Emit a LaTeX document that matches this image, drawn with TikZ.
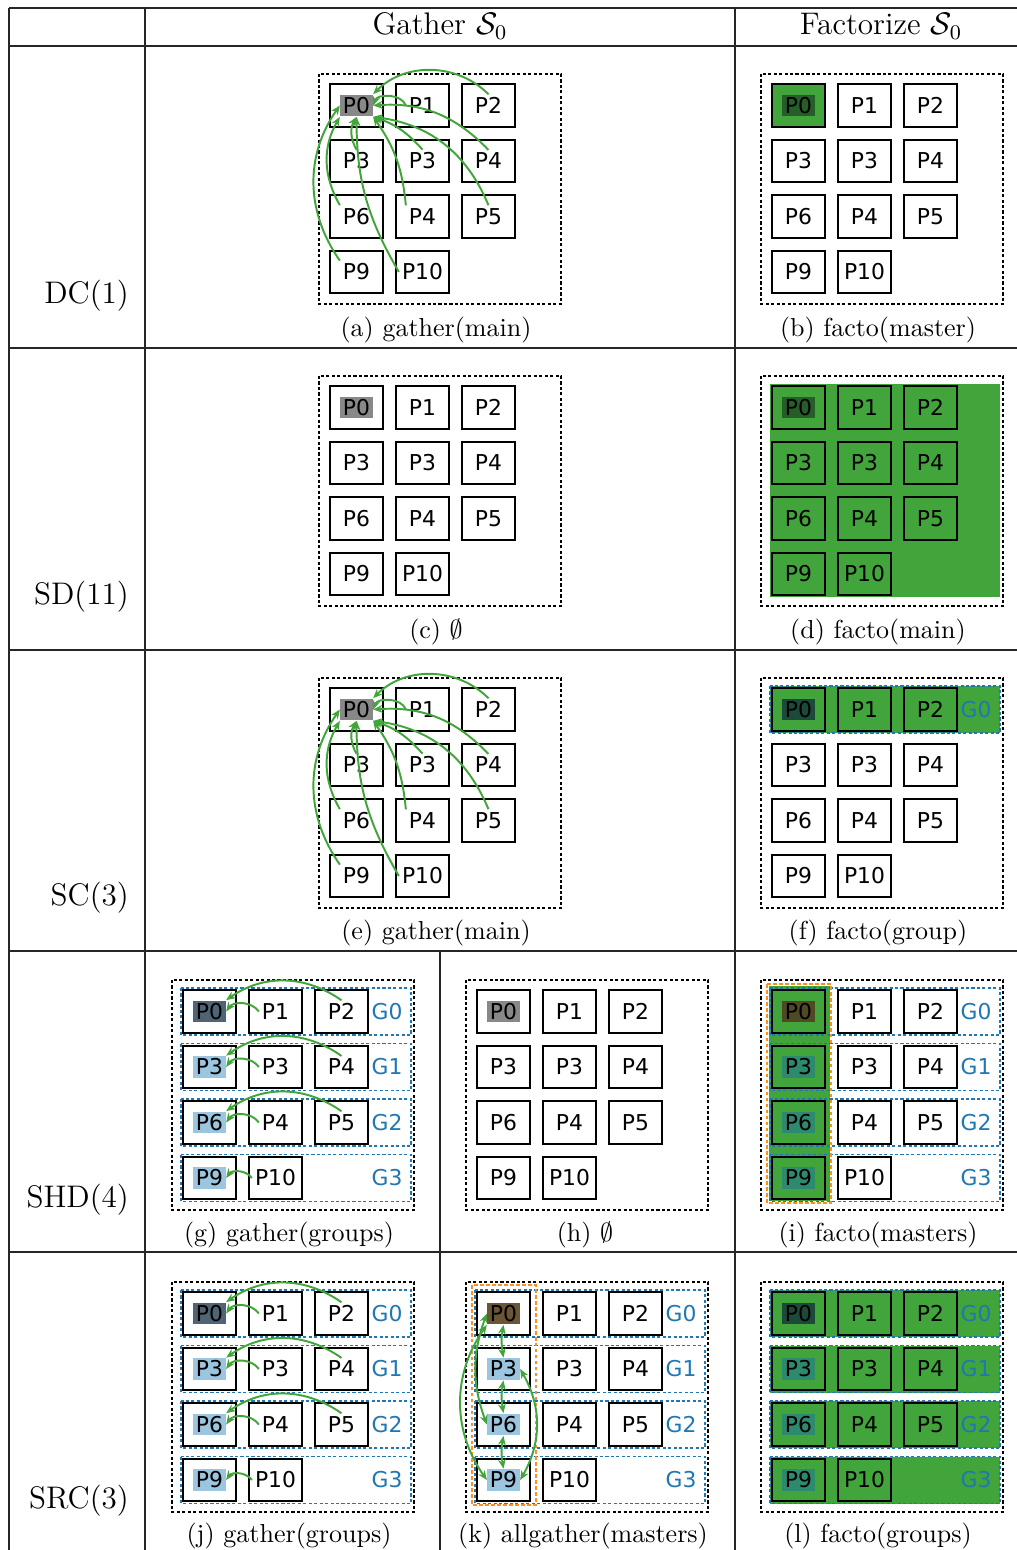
\documentclass[tikz,border=0pt]{standalone}
\usepackage{fontspec}
\usetikzlibrary{arrows.meta}
\newfontfamily\dejavu{DejaVu Sans}
\definecolor{figGreen}{HTML}{42A53B}
\definecolor{figBlue}{HTML}{1F77B4}
\definecolor{figOrange}{HTML}{FF8F1A}
\definecolor{hlMain}{HTML}{888888}
\definecolor{hlMainG}{HTML}{255E28}
\definecolor{hlTop}{HTML}{4F6475}
\definecolor{hlTopG}{HTML}{1C4A3A}
\definecolor{hlGrp}{HTML}{9CC5DF}
\definecolor{hlGrpG}{HTML}{2E8A6F}
\definecolor{hlMast}{HTML}{6B5535}
\definecolor{hlMastG}{HTML}{4F4A25}

% 4x3 grid of processes, cell P0 centred at (#2,#3)
\newcommand{\pgrid}[3]{%
  \foreach \lab [count=\k from 0] in {P0,P1,P2,P3,P3,P4,P6,P4,P5,P9,P10}{%
    \pgfmathtruncatemacro\gc{mod(\k,3)}%
    \pgfmathtruncatemacro\gr{div(\k,3)}%
    \node[pbox] (#1b\k) at ({#2+66*\gc},{#3+55.5*\gr}) {};
    \node[plab] (#1\k) at (#1b\k) {\lab};
  }%
  \draw[outerbox] ({#2-37.5},{#3-31.5}) rectangle ({#2+204.5},{#3+198.5});
}
% row groups G0..G(#4-1)
\newcommand{\pgroups}[4]{%
  \foreach \g in {1,...,#4}{%
    \pgfmathtruncatemacro\gi{\g-1}%
    \draw[grpbox] ({#2-28.5},{#3+55.5*\gi-23.5}) rectangle ({#2+201.5},{#3+55.5*\gi+23.5});
    \node[glab] (#1G\gi) at ({#2+177.5},{#3+55.5*\gi}) {G\gi};
  }%
}
% everybody sends to P0
\newcommand{\gathermain}[1]{%
  \draw[gflow] (#11.west) to[bend right=70] (#10.east);
  \draw[gflow] (#12.north) to[bend right=45] (#10.north east);
  \draw[gflow] (#15.north) to[bend right=25] (#10.east);
  \draw[gflow] (#14.north) to[bend right=15] (#10.south east);
  \draw[gflow] (#13.north) to[bend left=30] (#10.south);
  \draw[gflow] (#18.north) to[bend right=30] (#10.south east);
  \draw[gflow] (#17.north west) to[bend right=15] (#10.south east);
  \draw[gflow] (#16.north west) to[bend left=30] (#10.south west);
  \draw[gflow] (#19.north west) to[bend left=35] (#10.west);
  \draw[gflow] (#110.west) to[bend left=15] (#10.south);
}
% each group sends to its master
\newcommand{\gathergrp}[1]{%
  \foreach \m in {0,3,6}{%
    \pgfmathtruncatemacro\ma{\m+1}%
    \pgfmathtruncatemacro\mb{\m+2}%
    \draw[gflow] (#1\ma.west) to[bend right=55] (#1\m.east);
    \draw[gflow] (#1\mb.north) to[bend right=35] (#1\m.north east);
  }%
  \draw[gflow] (#110.west) to[bend right=55] (#19.east);
}

\begin{document}
\begin{tikzpicture}[
  x=0.3846pt,y=-0.3846pt,
  >={Stealth[length=3.6pt,width=3pt]},
  tline/.style={line width=0.5pt,black!85},
  pbox/.style={draw,line width=0.75pt,minimum width=20.4pt,minimum height=16.2pt,inner sep=0pt},
  plab/.style={font={\dejavu\fontsize{8.4}{9}\selectfont},inner sep=1pt},
  glab/.style={font={\dejavu\fontsize{8.4}{9}\selectfont},text=figBlue,inner sep=1pt},
  outerbox/.style={draw,line width=0.5pt,dash pattern=on 1.2pt off 0.9pt},
  grpbox/.style={draw=figBlue,line width=0.5pt,dash pattern=on 1.2pt off 0.9pt},
  mastbox/.style={draw=figOrange,line width=0.6pt,dash pattern=on 1.4pt off 0.9pt},
  gflow/.style={->,draw=figGreen,line width=0.75pt},
  gflow2/.style={<->,draw=figGreen,line width=0.75pt},
  head/.style={font=\fontsize{12}{14}\selectfont},
  rowlab/.style={font=\fontsize{12}{14}\selectfont,anchor=east},
  capt/.style={font=\fontsize{10}{12}\selectfont}
]
\useasboundingbox (0,0) rectangle (1017,1550);

% table
\draw[tline] (9,8) -- (1017,8);
\foreach \y in {46,348,650,951,1252} \draw[tline] (9,\y) -- (1017,\y);
\foreach \x in {9,145,735} \draw[tline] (\x,8) -- (\x,1550);
\draw[tline] (440,951) -- (440,1550);

\node[head] (hgather) at (440,26) {Gather $\mathcal{S}_0$};
\node[head] (hfacto) at (881,26) {Factorize $\mathcal{S}_0$};

\node[rowlab] (rDC) at (138,296) {DC(1)};
\node[rowlab] (rSD) at (138,597) {SD(11)};
\node[rowlab] (rSC) at (138,898) {SC(3)};
\node[rowlab] (rSHD) at (138,1200) {SHD(4)};
\node[rowlab] (rSRC) at (138,1501) {SRC(3)};

% green backgrounds
\fill[figGreen] (772,84.5) rectangle (825,126.5);
\fill[figGreen] (770,384) rectangle (1000,597);
\fill[figGreen] (770,686) rectangle (1000,733);
\fill[figGreen] (769,986) rectangle (830,1201);
\foreach \r in {0,1,2,3}
  \fill[figGreen] (770,{1313.5+55.5*\r-23.5}) rectangle (1000,{1313.5+55.5*\r+23.5});

% grids
\pgrid{a}{356.5}{105.5}
\pgrid{b}{798.5}{105.5}
\pgrid{c}{356.5}{407.5}
\pgrid{d}{798.5}{407.5}
\pgrid{e}{356.5}{709.5}
\pgrid{f}{798.5}{709.5}
\pgrid{g}{209.5}{1011.5}
\pgrid{h}{503.5}{1011.5}
\pgrid{i}{798.5}{1011.5}
\pgrid{j}{209.5}{1313.5}
\pgrid{k}{503.5}{1313.5}
\pgrid{l}{798.5}{1313.5}

\pgroups{f}{798.5}{709.5}{1}
\pgroups{g}{209.5}{1011.5}{4}
\pgroups{i}{798.5}{1011.5}{4}
\pgroups{j}{209.5}{1313.5}{4}
\pgroups{k}{503.5}{1313.5}{4}
\pgroups{l}{798.5}{1313.5}{4}

\draw[mastbox] (767,984) rectangle (831,1203);
\draw[mastbox] (472,1285) rectangle (536,1505);

% highlighted ranks
\foreach \p in {a,c,e,h} \node[plab,fill=hlMain] (\p0h) at (\p0) {P0};
\foreach \p in {b,d} \node[plab,fill=hlMainG] (\p0h) at (\p0) {P0};
\node[plab,fill=hlTopG] (f0h) at (f0) {P0};
\foreach \p in {g,j} {
  \node[plab,fill=hlTop] (\p0h) at (\p0) {P0};
  \node[plab,fill=hlGrp] (\p3h) at (\p3) {P3};
  \node[plab,fill=hlGrp] (\p6h) at (\p6) {P6};
  \node[plab,fill=hlGrp] (\p9h) at (\p9) {P9};
}
\node[plab,fill=hlMastG] (i0h) at (i0) {P0};
\node[plab,fill=hlMast] (k0h) at (k0) {P0};
\node[plab,fill=hlTopG] (l0h) at (l0) {P0};
\foreach \p/\c in {i/hlGrpG,k/hlGrp,l/hlGrpG} {
  \node[plab,fill=\c] (\p3h) at (\p3) {P3};
  \node[plab,fill=\c] (\p6h) at (\p6) {P6};
  \node[plab,fill=\c] (\p9h) at (\p9) {P9};
}

% communications
\gathermain{a}
\gathermain{e}
\gathergrp{g}
\gathergrp{j}
\draw[gflow2] (k0.south) to[bend right=10] (k3.north);
\draw[gflow2] (k3.south) to[bend right=10] (k6.north);
\draw[gflow2] (k6.south) to[bend right=10] (k9.north);
\draw[gflow2] (k0.west) to[bend right=20] (k6.west);
\draw[gflow2] (k0.south west) to[bend right=35] (k9.west);
\draw[gflow2] (k3.east) to[bend left=30] (k9.east);

% captions
\node[capt] (capa) at (436,330) {(a) gather(main)};
\node[capt] (capb) at (878,330) {(b) facto(master)};
\node[capt] (capc) at (436,632) {(c) $\emptyset$};
\node[capt] (capd) at (878,632) {(d) facto(main)};
\node[capt] (cape) at (436,933) {(e) gather(main)};
\node[capt] (capf) at (878,933) {(f) facto(group)};
\node[capt] (capg) at (289,1235) {(g) gather(groups)};
\node[capt] (caph) at (585,1235) {(h) $\emptyset$};
\node[capt] (capi) at (878,1235) {(i) facto(masters)};
\node[capt] (capj) at (289,1536) {(j) gather(groups)};
\node[capt] (capk) at (583,1536) {(k) allgather(masters)};
\node[capt] (capl) at (878,1536) {(l) facto(groups)};
\end{tikzpicture}
\end{document}
